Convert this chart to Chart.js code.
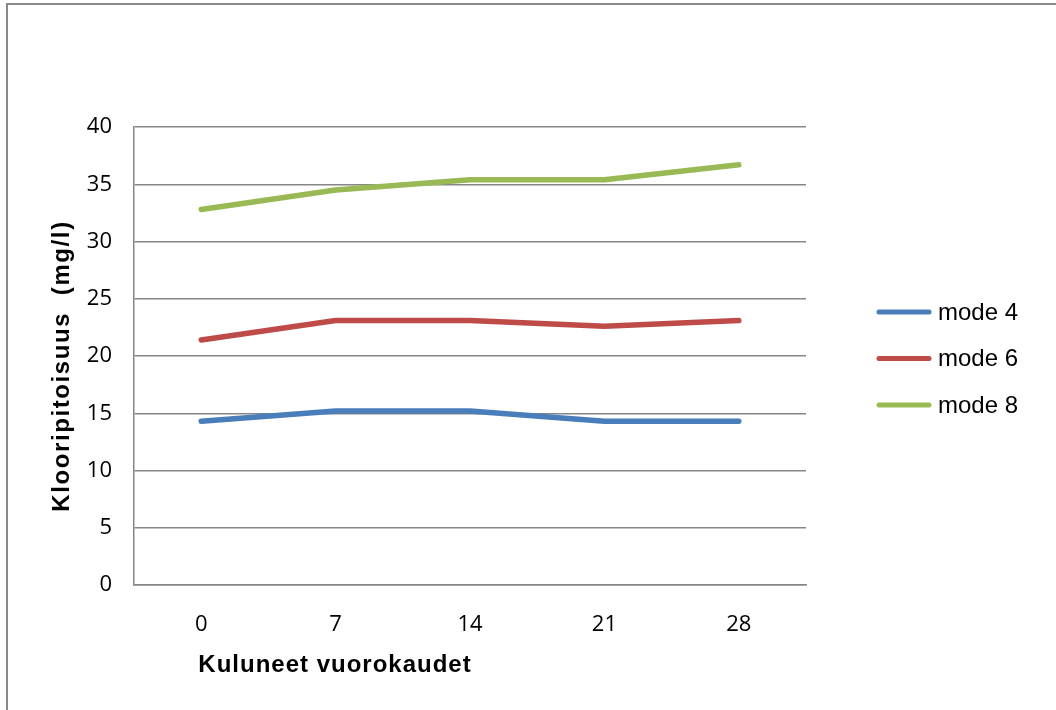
<!DOCTYPE html>
<html>
<head>
<meta charset="utf-8">
<script src="https://cdn.jsdelivr.net/npm/chart.js@4/dist/chart.umd.min.js"></script>
<style>
  html, body { margin: 0; padding: 0; background: #fff; }
  #wrap { width: 1056px; height: 710px; }
</style>
</head>
<body>
<div id="wrap"><canvas id="myChart" width="1056" height="710"></canvas></div>
<script>
// chart data
let days = ["0", "7", "14", "21", "28"];
let mode4 = [14.3, 15.2, 15.2, 14.3, 14.3];
let mode6 = [21.4, 23.1, 23.1, 22.6, 23.1];
let mode8 = [32.8, 34.5, 35.4, 35.4, 36.7];
let seriesNames = ["mode 4", "mode 6", "mode 8"];
let seriesColors = ["#4a7ebb", "#be4b48", "#98b954"];
let yTicks = [0, 5, 10, 15, 20, 25, 30, 35, 40];

const gridColor = "#868686";
const tickFont = { family: "'Open Sans', 'Noto Sans', sans-serif", size: 22 };

// frame, axis titles and legend drawn by hand like the original
const decorations = {
  id: "decorations",
  beforeDraw(chart) {
    const c = chart.ctx;
    c.save();
    c.fillStyle = "#fff";
    c.fillRect(0, 0, chart.width, chart.height);
    c.strokeStyle = "#8a8a8a";
    c.lineWidth = 2;
    c.strokeRect(7, 4, 1200, 900);
    c.restore();
  },
  afterDraw(chart) {
    const c = chart.ctx;
    c.save();
    c.fillStyle = "#000";
    c.font = "bold 24px 'Liberation Sans', Arial, sans-serif";
    c.letterSpacing = "1px";
    c.textAlign = "center";
    c.textBaseline = "middle";
    c.fillText("Kuluneet vuorokaudet", 335, 665);
    c.letterSpacing = "1.6px";
    c.translate(62, 366);
    c.rotate(-Math.PI / 2);
    c.fillText("Klooripitoisuus  (mg/l)", 0, 0);
    c.restore();

    c.save();
    c.font = "24px 'Liberation Sans', Arial, sans-serif";
    c.textBaseline = "middle";
    chart.data.datasets.forEach(function (ds, i) {
      let y = 312 + i * 46.5;
      c.strokeStyle = ds.borderColor;
      c.lineWidth = 5;
      c.lineCap = "round";
      c.beginPath();
      c.moveTo(879, y);
      c.lineTo(929, y);
      c.stroke();
      c.fillStyle = "#000";
      c.fillText(ds.label, 938, y + 1);
    });
    c.restore();
  }
};

function makeSet(i, values) {
  return {
    label: seriesNames[i],
    data: values,
    borderColor: seriesColors[i],
    backgroundColor: seriesColors[i],
    borderWidth: 5.5,
    borderCapStyle: "round",
    borderJoinStyle: "round",
    pointRadius: 0,
    pointHoverRadius: 0,
    tension: 0,
    fill: false
  };
}

function drawChart() {
  const ctx = document.getElementById("myChart");
  new Chart(ctx, {
    type: "line",
    data: {
      labels: days,
      datasets: [makeSet(0, mode4), makeSet(1, mode6), makeSet(2, mode8)]
    },
    options: {
      responsive: false,
      animation: false,
      events: [],
      layout: { padding: { left: 0, right: 250, top: 127, bottom: 0 } },
      plugins: {
        legend: { display: false },
        tooltip: { enabled: false },
        title: { display: false }
      },
      scales: {
        x: {
          offset: true,
          grid: { display: false, drawTicks: false },
          border: { display: true, color: gridColor, width: 1.5 },
          ticks: { color: "#000", font: tickFont, padding: 27, maxRotation: 0 },
          afterFit(scale) { scale.height = 125; }
        },
        y: {
          min: 0,
          max: 40,
          afterBuildTicks(scale) { scale.ticks = yTicks.map(v => ({ value: v })); },
          grid: { color: gridColor, lineWidth: 1.5, drawTicks: false },
          border: { display: true, color: gridColor, width: 1.5 },
          ticks: { color: "#000", font: tickFont, padding: 22 },
          afterFit(scale) { scale.width = 134; }
        }
      }
    },
    plugins: [decorations]
  });
}

Promise.all([
  document.fonts.load("22px 'Open Sans'"),
  document.fonts.load("bold 24px 'Liberation Sans'"),
  document.fonts.load("24px 'Liberation Sans'")
]).then(drawChart, drawChart);
</script>
</body>
</html>
